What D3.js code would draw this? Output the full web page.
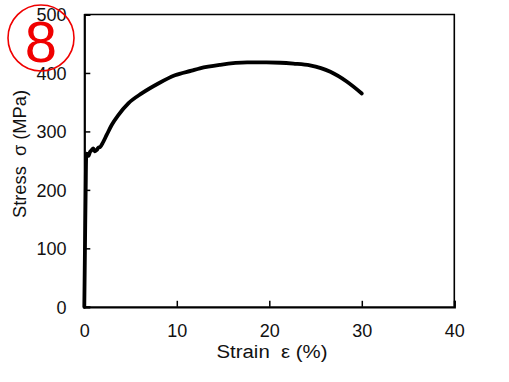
<!DOCTYPE html>
<html><head><meta charset="utf-8">
<script src="https://cdn.jsdelivr.net/npm/d3@7/dist/d3.min.js"></script>
<style>body{margin:0;background:#fff}svg{display:block}text{font-family:"Liberation Sans",Arial,sans-serif}</style>
</head><body>
<script>
const strain = [0, 0.05, 0.1, 0.15, 0.2, 0.26, 0.45, 0.62, 0.8, 0.97, 1.15, 1.34, 1.5, 1.7, 2.05, 2.42, 2.96, 3.68, 4.76, 6.2, 8.0, 9.8, 11.6, 12.5, 14.7, 17.6, 19.7, 21.2, 22.6, 24.4, 26.6, 28.4, 30.0];
const stress = [0, 70, 140, 200, 255, 262, 258, 265, 268, 271, 266, 268, 272, 273, 282, 294, 311, 328, 348, 365, 382, 396, 404, 408, 414, 418, 418, 417.5, 416, 413, 402, 385, 365];
const xTicks = [0, 10, 20, 30, 40];
const yTicks = [0, 100, 200, 300, 400, 500];
const xTitle = "Strain  ε (%)";
const yTitle = "Stress  σ (MPa)";
const badge = "8";

const W = 509, H = 382;
const FONT = '"Liberation Sans",Arial,sans-serif';
const svg = d3.select("body").append("svg").attr("width", W).attr("height", H);
const x = d3.scaleLinear().domain([0, 40]).range([84.3, 454.3]);
const y = d3.scaleLinear().domain([0, 500]).range([306.8, 14.5]);

// frame top/right
svg.append("path")
  .attr("d", `M${x(0)},${y(500)}H${x(40)}V${y(0)}`)
  .attr("fill", "none").attr("stroke", "#000").attr("stroke-width", 1.6);

const xAxis = svg.append("g").attr("transform", `translate(0,${y(0)})`)
  .call(d3.axisBottom(x).tickValues(xTicks).tickSize(-6).tickFormat(d3.format("d")));
const yAxis = svg.append("g").attr("transform", `translate(${x(0)},0)`)
  .call(d3.axisLeft(y).tickValues(yTicks).tickSize(-6).tickFormat(d3.format("d")));
[xAxis, yAxis].forEach(g => {
  g.select(".domain").attr("stroke-width", 2.2);
  g.selectAll(".tick line").attr("stroke-width", 1.5);
  g.selectAll("text").attr("font-size", 18).attr("fill", "#111").style("font-family", FONT);
});
xAxis.selectAll("text").attr("dy", null).attr("y", 336.7 - 306.8);
yAxis.selectAll("text").attr("x", 66.5 - 84.3).attr("dy", "0.35em");

svg.append("text").attr("x", 272).attr("y", 358)
  .attr("text-anchor", "middle").attr("font-size", 18).attr("fill", "#111")
  .style("white-space", "pre")
  .attr("textLength", 111).attr("lengthAdjust", "spacingAndGlyphs").text(xTitle);
svg.append("text").attr("transform", `translate(25.5,154) rotate(-90)`)
  .attr("text-anchor", "middle").attr("font-size", 18).attr("fill", "#111")
  .style("white-space", "pre")
  .attr("textLength", 128).attr("lengthAdjust", "spacingAndGlyphs").text(yTitle);

const pts = strain.map((s, i) => [s, stress[i]]);
svg.append("path").datum(pts)
  .attr("d", d3.line().x(d => x(d[0])).y(d => y(d[1])).curve(d3.curveMonotoneX))
  .attr("fill", "none").attr("stroke", "#000").attr("stroke-width", 3.8)
  .attr("stroke-linejoin", "round").attr("stroke-linecap", "round");

// badge
svg.append("circle").attr("cx", 41).attr("cy", 38).attr("r", 33)
  .attr("fill", "none").attr("stroke", "#f00000").attr("stroke-width", 1.6);
svg.append("text").attr("x", 41).attr("y", 62).attr("text-anchor", "middle")
  .attr("font-size", 58).attr("fill", "#f00000").text(badge);
</script>
</body></html>
